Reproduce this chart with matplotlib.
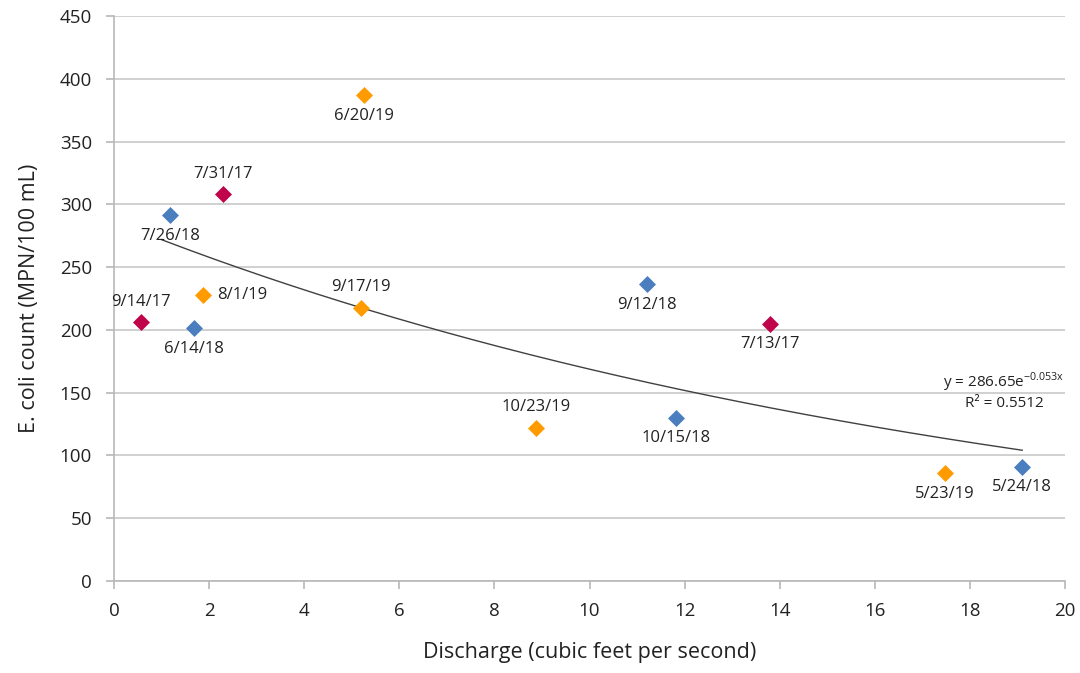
import numpy as np
import matplotlib
matplotlib.use("Agg")
import matplotlib.pyplot as plt

plt.rcParams['font.family'] = ['Open Sans', 'DejaVu Sans']

# sampling dates, discharge (cfs) and E. coli counts
dates = ["7/31/17", "9/14/17", "7/13/17",
         "7/26/18", "6/14/18", "9/12/18", "10/15/18", "5/24/18",
         "6/20/19", "8/1/19", "9/17/19", "10/23/19", "5/23/19"]
discharge = [2.29, 0.57, 13.80,
             1.18, 1.68, 11.21, 11.82, 19.10,
             5.26, 1.87, 5.19, 8.87, 17.48]
ecoli = [308, 206, 205,
         291.5, 201.5, 236.5, 130, 91,
         387, 228, 217.5, 122, 86]
year = ["2017", "2017", "2017",
        "2018", "2018", "2018", "2018", "2018",
        "2019", "2019", "2019", "2019", "2019"]
# where each label sits relative to its point
label_pos = ["above", "above", "below",
             "below", "below", "below", "below", "below",
             "below", "right", "above", "above", "below"]

colors = {"2017": "#C0044C", "2018": "#4A7EBF", "2019": "#FF9A00"}

# exponential trendline from the chart
fit_a = 286.65
fit_b = -0.053
fit_start = 1.0

fig = plt.figure(figsize=(10.8, 6.73), dpi=100)
ax = fig.add_axes([0.1056, 0.1367, 0.8805, 0.8395])

for i in range(len(dates)):
    ax.scatter(discharge[i], ecoli[i], marker="D", s=75,
               color=colors[year[i]], zorder=3, linewidths=0)

xs = np.linspace(fit_start, max(discharge), 200)
ax.plot(xs, fit_a * np.exp(fit_b * xs), color="#404040", lw=1.0, zorder=2)

for i in range(len(dates)):
    if label_pos[i] == "above":
        ax.annotate(dates[i], (discharge[i], ecoli[i]), xytext=(0, 9),
                    textcoords="offset points", ha="center", va="bottom",
                    fontsize=12, color="#222222")
    elif label_pos[i] == "below":
        ax.annotate(dates[i], (discharge[i], ecoli[i]), xytext=(0, -9),
                    textcoords="offset points", ha="center", va="top",
                    fontsize=12, color="#222222")
    else:
        ax.annotate(dates[i], (discharge[i], ecoli[i]), xytext=(10, 0),
                    textcoords="offset points", ha="left", va="center",
                    fontsize=12, color="#222222")

ax.text(18.72, 158, r"y = 286.65e$^{\mathregular{-0.053x}}$", ha="center",
        va="center", fontsize=11, color="#222222")
ax.text(18.72, 141, "R² = 0.5512", ha="center", va="center",
        fontsize=11, color="#222222")

ax.set_xlim(0, 20)
ax.set_ylim(0, 450)
ax.set_xticks(range(0, 21, 2))
ax.set_yticks(range(0, 451, 50))
ax.yaxis.grid(True, color="#C8C8C8", lw=1.2)
ax.set_axisbelow(True)
for s in ["top", "right"]:
    ax.spines[s].set_visible(False)
for s in ["left", "bottom"]:
    ax.spines[s].set_color("#B8B8B8")
    ax.spines[s].set_linewidth(1.2)
ax.tick_params(axis="both", colors="#B8B8B8", labelcolor="#222222",
               labelsize=13.5, length=6, width=1.2)
ax.tick_params(axis="x", pad=9)
ax.tick_params(axis="y", pad=10)
ax.set_xlabel("Discharge (cubic feet per second)", fontsize=15.5,
              color="#222222", labelpad=16)
ax.set_ylabel("E. coli count (MPN/100 mL)", fontsize=15.5,
              color="#222222", labelpad=14)

fig.savefig("out.png", dpi=100)
